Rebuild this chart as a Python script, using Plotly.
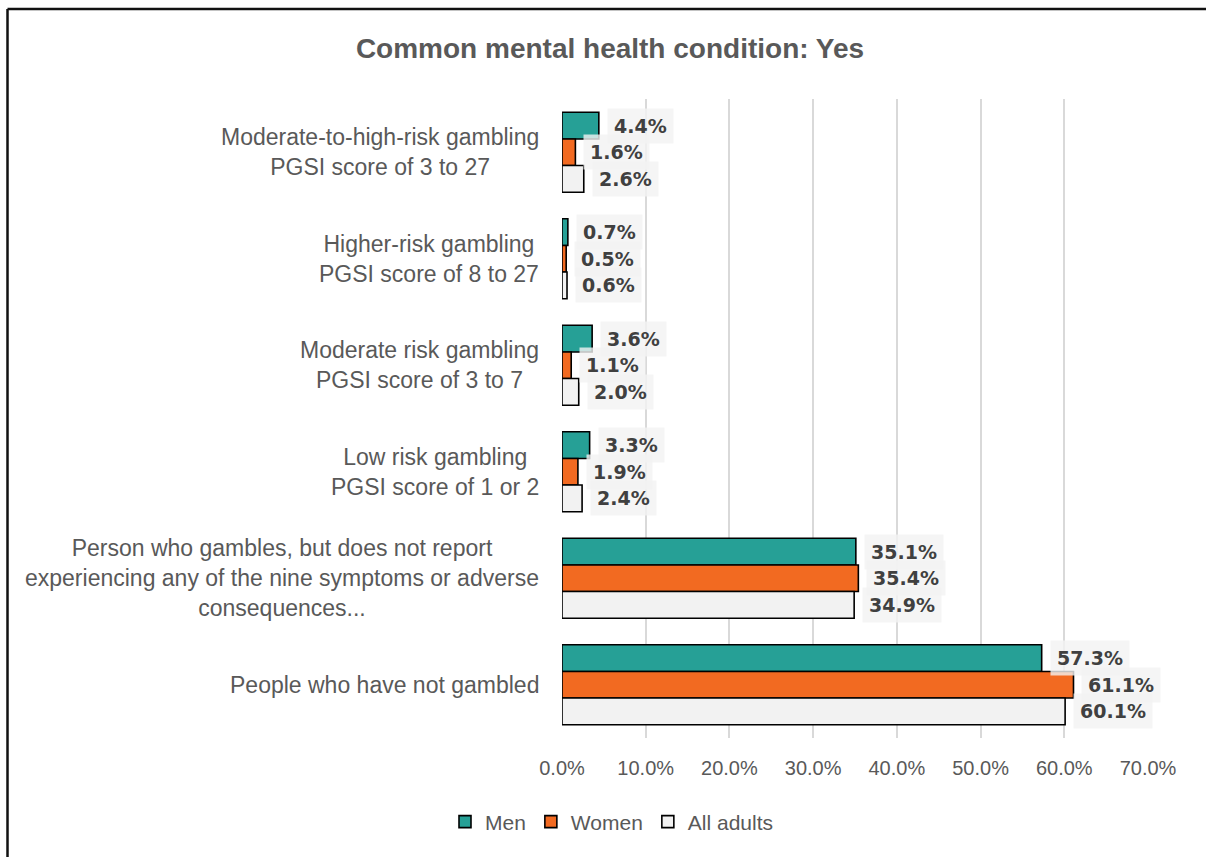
import plotly.graph_objects as go

categories = [
    "Moderate-to-high-risk gambling<br>PGSI score of 3 to 27",
    "Higher-risk gambling<br>PGSI score of 8 to 27",
    "Moderate risk gambling<br>PGSI score of 3 to 7",
    "Low risk gambling<br>PGSI score of 1 or 2",
    "Person who gambles, but does not report<br>experiencing any of the nine symptoms or adverse<br>consequences...",
    "People who have not gambled",
]
men = [4.4, 0.7, 3.6, 3.3, 35.1, 57.3]
women = [1.6, 0.5, 1.1, 1.9, 35.4, 61.1]
all_adults = [2.6, 0.6, 2.0, 2.4, 34.9, 60.1]
series_names = ["Men", "Women", "All adults"]
series_values = [men, women, all_adults]
series_colors = ["#26a096", "#f26a21", "#f2f2f2"]
x_ticks = [0, 10, 20, 30, 40, 50, 60, 70]
x_tick_labels = ["0.0%", "10.0%", "20.0%", "30.0%", "40.0%", "50.0%", "60.0%", "70.0%"]

W, H = 1206, 857
ML, MR, MT, MB = 562, 58, 99, 119
PW = W - ML - MR
PH = H - MT - MB

FONT = "Liberation Sans, Arial, sans-serif"
BFONT = "DejaVu Sans, Liberation Sans, sans-serif"
TXT = "#595959"

fig = go.Figure()
for name, vals, col in zip(series_names, series_values, series_colors):
    fig.add_trace(go.Bar(
        y=categories, x=vals, name=name, orientation="h",
        marker=dict(color=col, line=dict(color="#000000", width=1.6)),
        hoverinfo="skip",
    ))

# data labels
cat_step = PH / len(categories)
bar_h = cat_step * 0.75 / 3
shifts = [bar_h, 0, -bar_h]
for vals, ys in zip(series_values, shifts):
    for c, v in zip(categories, vals):
        fig.add_annotation(
            x=v, y=c, xref="x", yref="y", text=f"<b>{v:.1f}%</b>",
            showarrow=False, xanchor="left", yanchor="middle",
            xshift=8, yshift=ys,
            font=dict(family=BFONT, size=19, color="#404040"),
            bgcolor="rgba(243,243,243,0.8)", borderpad=6,
        )

# category labels (centered multi-line)
for c in categories:
    fig.add_annotation(
        x=0, y=c, xref="paper", yref="y", text=c, showarrow=False,
        xanchor="right", yanchor="middle", align="center", xshift=-21,
        font=dict(family=FONT, size=23, color=TXT),
    )

# outer chart border (left + top)
x_left = (7.5 - ML) / PW
x_right = (W + 30 - ML) / PW
y_top = (H - MB - 9) / PH
y_bot = (H - MB - H - 30) / PH
fig.add_shape(type="line", xref="paper", yref="paper", x0=x_left, x1=x_right,
              y0=y_top, y1=y_top, line=dict(color="#111111", width=2.5))
fig.add_shape(type="line", xref="paper", yref="paper", x0=x_left, x1=x_left,
              y0=y_top, y1=y_bot, line=dict(color="#111111", width=2.5))

fig.update_layout(
    width=W, height=H,
    margin=dict(l=ML, r=MR, t=MT, b=MB),
    paper_bgcolor="white", plot_bgcolor="white",
    barmode="group", bargap=0.25, bargroupgap=0,
    title=dict(text="<b>Common mental health condition: Yes</b>",
               xref="container", x=610 / W, xanchor="center",
               yref="container", y=1 - 48 / H, yanchor="middle",
               font=dict(family=FONT, size=28, color=TXT)),
    legend=dict(orientation="h", xref="container", yref="container",
                x=612 / W, xanchor="center", y=1 - 822 / H, yanchor="middle",
                font=dict(family=FONT, size=21, color=TXT),
                itemwidth=30, traceorder="normal"),
    xaxis=dict(range=[0, 70], tickvals=x_ticks, ticktext=x_tick_labels,
               showgrid=True, gridcolor="#d9d9d9", gridwidth=1.5,
               zeroline=False, showline=False, ticks="",
               ticklabelstandoff=16,
               tickfont=dict(family=FONT, size=20, color=TXT)),
    yaxis=dict(autorange="reversed", showticklabels=False, showgrid=False,
               zeroline=False, showline=False, ticks=""),
)

fig.write_html("out.html")
